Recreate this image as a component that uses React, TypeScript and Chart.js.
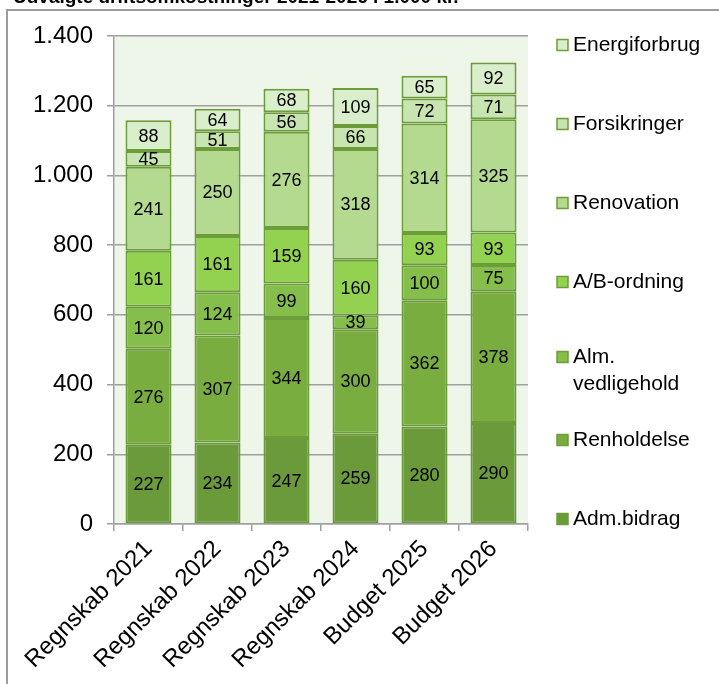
import React, { useEffect, useRef } from "react";
import { Chart, registerables } from "chart.js";

Chart.register(...registerables);

const categories = ["Regnskab 2021", "Regnskab 2022", "Regnskab 2023", "Regnskab 2024", "Budget 2025", "Budget 2026"];
const admBidrag = [227, 234, 247, 259, 280, 290];
const renholdelse = [276, 307, 344, 300, 362, 378];
const almVedligehold = [120, 124, 99, 39, 100, 75];
const abOrdning = [161, 161, 159, 160, 93, 93];
const renovation = [241, 250, 276, 318, 314, 325];
const forsikringer = [45, 51, 56, 66, 72, 71];
const energiforbrug = [88, 64, 68, 109, 65, 92];
const yTicks = [0, 200, 400, 600, 800, 1000, 1200, 1400];
const titleText = "Udvalgte driftsomkostninger 2021-2026 i 1.000 kr.";

const FONT = "'Liberation Sans', Arial, sans-serif";
const BORDER = "#6D9D3B";

const seriesDefs = [
  { label: "Adm.bidrag", lines: ["Adm.bidrag"], data: admBidrag, color: "#6A9A3A", border: "#6A9A3A" },
  { label: "Renholdelse", lines: ["Renholdelse"], data: renholdelse, color: "#79AD40", border: BORDER },
  { label: "Alm. vedligehold", lines: ["Alm.", "vedligehold"], data: almVedligehold, color: "#86BE4B", border: BORDER },
  { label: "A/B-ordning", lines: ["A/B-ordning"], data: abOrdning, color: "#93D151", border: BORDER },
  { label: "Renovation", lines: ["Renovation"], data: renovation, color: "#B3DA8F", border: BORDER },
  { label: "Forsikringer", lines: ["Forsikringer"], data: forsikringer, color: "#C8E4B0", border: BORDER },
  { label: "Energiforbrug", lines: ["Energiforbrug"], data: energiforbrug, color: "#D9EECB", border: BORDER },
];

const bgPlugin = {
  id: "plotBg",
  beforeDraw(chart: any) {
    const { ctx, chartArea, width, height } = chart;
    ctx.save();
    ctx.fillStyle = "#FFFFFF";
    ctx.fillRect(0, 0, width, height);
    ctx.strokeStyle = "#9C9C9C";
    ctx.lineWidth = 2;
    ctx.beginPath();
    ctx.moveTo(7, height + 5);
    ctx.lineTo(7, 10);
    ctx.lineTo(width + 5, 10);
    ctx.stroke();
    ctx.fillStyle = "#000";
    ctx.font = `bold 19px ${FONT}`;
    ctx.textAlign = "left";
    ctx.textBaseline = "alphabetic";
    ctx.fillText(titleText, 13, 3);
    ctx.fillStyle = "#EEF5E9";
    ctx.fillRect(chartArea.left, chartArea.top, chartArea.right - chartArea.left, chartArea.bottom - chartArea.top);
    ctx.restore();
  },
};

const labelPlugin = {
  id: "segLabels",
  afterDatasetsDraw(chart: any) {
    const { ctx } = chart;
    ctx.save();
    ctx.font = `18px ${FONT}`;
    ctx.fillStyle = "#000";
    ctx.textAlign = "center";
    ctx.textBaseline = "middle";
    chart.data.datasets.forEach((ds: any, di: number) => {
      const meta = chart.getDatasetMeta(di);
      meta.data.forEach((bar: any, i: number) => {
        const y = (bar.y + bar.base) / 2;
        ctx.fillText(String(ds.data[i]), bar.x, y + 1);
      });
    });
    ctx.restore();
  },
};

const legendPlugin = {
  id: "sideLegend",
  afterDraw(chart: any) {
    const { ctx, chartArea } = chart;
    ctx.save();
    ctx.font = `21px ${FONT}`;
    ctx.textBaseline = "middle";
    ctx.textAlign = "left";
    const items = [...seriesDefs].reverse();
    const top = chartArea.top + 9;
    const step = 79;
    items.forEach((s, i) => {
      let y = top + i * step;
      if (s.lines.length > 1) y -= 4;
      const x = chartArea.right + 29;
      ctx.fillStyle = s.color;
      ctx.fillRect(x, y - 5.5, 11, 11);
      ctx.strokeStyle = BORDER;
      ctx.lineWidth = 1.5;
      ctx.strokeRect(x, y - 5.5, 11, 11);
      ctx.fillStyle = "#000";
      s.lines.forEach((ln, li) => {
        ctx.fillText(ln, x + 16, y + li * 27);
      });
    });
    ctx.restore();
  },
};

function App() {
  const ref = useRef<HTMLCanvasElement | null>(null);
  useEffect(() => {
    if (!ref.current) return;
    const chart = new Chart(ref.current, {
      type: "bar",
      data: {
        labels: categories,
        datasets: seriesDefs.map((s) => ({
          label: s.label,
          data: s.data,
          backgroundColor: s.color,
          borderColor: s.border,
          borderWidth: 2,
          borderSkipped: false,
          barPercentage: 0.667,
          categoryPercentage: 1,
        })),
      },
      options: {
        animation: false,
        responsive: false,
        devicePixelRatio: 1,
        layout: { padding: { top: 36, right: 191, left: 0, bottom: 0 } },
        plugins: { legend: { display: false }, tooltip: { enabled: false }, title: { display: false } },
        scales: {
          x: {
            stacked: true,
            offset: true,
            grid: { display: true, drawOnChartArea: false, drawTicks: true, tickLength: 7, color: "#A0A0A0", lineWidth: 1.5, offset: true },
            border: { display: true, color: "#A0A0A0", width: 1.5 },
            ticks: { font: { family: FONT, size: 24 }, color: "#000", maxRotation: 45, minRotation: 45, padding: 4 },
            afterFit(scale: any) { scale.height = 160; },
          },
          y: {
            stacked: true,
            min: 0,
            max: 1400,
            afterBuildTicks(scale: any) { scale.ticks = yTicks.map((v) => ({ value: v })); },
            grid: { color: "#A0A0A0", lineWidth: 1.5, tickLength: 7, drawTicks: true },
            border: { display: true, color: "#A0A0A0", width: 1.5 },
            ticks: {
              font: { family: FONT, size: 24 },
              color: "#000",
              padding: 14,
              callback: (v: any) => Number(v).toLocaleString("de-DE"),
            },
            afterFit(scale: any) { scale.width = 114; },
          },
        },
      },
      plugins: [bgPlugin, labelPlugin, legendPlugin],
    });
    return () => chart.destroy();
  }, []);

  return (
    <div style={{ position: "fixed", left: 0, top: 0, width: 719, height: 684, overflow: "hidden", background: "#fff" }}>
      <canvas ref={ref} width={719} height={684} style={{ display: "block", width: 719, height: 684 }} />
    </div>
  );
}

export default App;
